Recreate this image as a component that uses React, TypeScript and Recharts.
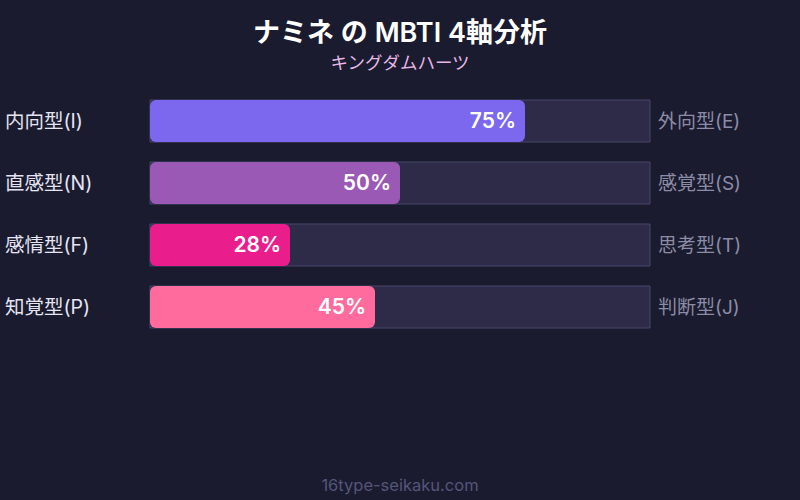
import { BarChart, Bar, XAxis, YAxis, Cell, LabelList } from 'recharts';

const leftLabels = ['内向型(I)', '直感型(N)', '感情型(F)', '知覚型(P)'];
const rightLabels = ['外向型(E)', '感覚型(S)', '思考型(T)', '判断型(J)'];
const percents = [75, 50, 28, 45];
const barColors = ['#7b68ee', '#9b59b6', '#e91e8c', '#ff6b9d'];

const FONT = 'Inter, "Noto Sans CJK JP", sans-serif';

const data = leftLabels.map((l, i) => ({ left: l, right: rightLabels[i], value: percents[i] }));

const LeftTick = ({ y, payload }: any) => (
  <text x={5} y={y} dy={7} textAnchor="start" fill="#e4e4f2" fontSize={19.5} fontFamily={FONT}>
    {payload.value}
  </text>
);

const RightTick = ({ y, payload }: any) => (
  <text x={658} y={y} dy={7} textAnchor="start" fill="#8c8ca6" fontSize={19} fontFamily={FONT}>
    {payload.value}
  </text>
);

const App = () => {
  return (
    <div style={{ position: 'absolute', top: 0, left: 0, width: 800, height: 500, background: '#1a1b2e' }}>
      <BarChart
        width={800}
        height={500}
        data={data}
        layout="vertical"
        margin={{ top: 90, right: 0, left: 0, bottom: 162 }}
        barSize={42}
      >
        <text x={400} y={42} textAnchor="middle" fill="#ffffff" fontSize={27} fontWeight={600} fontFamily={FONT}>
          ナミネ の MBTI 4軸分析
        </text>
        <text x={400} y={69} textAnchor="middle" fill="#e6b8e6" fontSize={17.5} fontFamily={FONT}>
          キングダムハーツ
        </text>
        <text x={400} y={491} textAnchor="middle" fill="#55557a" fontSize={16.5} fontFamily={FONT}>
          16type-seikaku.com
        </text>
        <XAxis type="number" domain={[0, 100]} hide />
        <YAxis
          yAxisId="left"
          type="category"
          dataKey="left"
          width={150}
          axisLine={false}
          tickLine={false}
          tick={<LeftTick />}
        />
        <YAxis
          yAxisId="right"
          orientation="right"
          type="category"
          dataKey="right"
          width={150}
          axisLine={false}
          tickLine={false}
          tick={<RightTick />}
        />
        <Bar
          yAxisId="left"
          dataKey="value"
          radius={6}
          background={{ fill: '#2d2b48', stroke: '#46466a', strokeWidth: 1 }}
          isAnimationActive={false}
        >
          {data.map((d, i) => (
            <Cell key={d.left} fill={barColors[i]} />
          ))}
          <LabelList
            dataKey="value"
            position="insideRight"
            offset={9}
            formatter={(v: any) => `${v}%`}
            fill="#ffffff"
            fontSize={21}
            fontWeight={600}
            fontFamily={FONT}
          />
        </Bar>
      </BarChart>
    </div>
  );
};

export default App;
